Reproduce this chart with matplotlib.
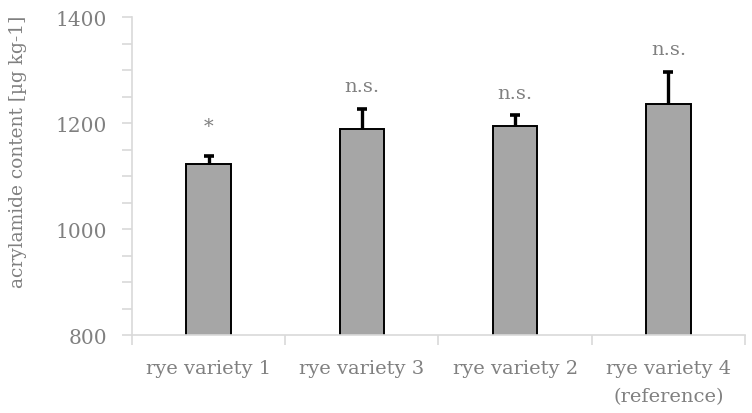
import matplotlib
matplotlib.use("Agg")
import matplotlib.pyplot as plt
from matplotlib.ticker import MultipleLocator, FixedLocator

categories = ["rye variety 1", "rye variety 3", "rye variety 2", "rye variety 4\n(reference)"]
values = [1122, 1189, 1194, 1236]
errors = [16, 38, 21, 61]
labels = ["*", "n.s.", "n.s.", "n.s."]

plt.rcParams['font.family'] = ['DejaVu Serif']
gray = "#808080"

fig = plt.figure(figsize=(7.52, 4.14), dpi=100)
ax = fig.add_axes([0.1755, 0.1884, 0.8152, 0.7681])

x = list(range(len(categories)))
tops = [v + e for v, e in zip(values, errors)]
ax.bar(x, values, width=0.29, color="#a6a6a6", edgecolor="black", linewidth=1.4, zorder=2)
ax.vlines(x, values, tops, color="black", linewidth=2.4, zorder=3)
ax.plot(x, tops, linestyle="none", marker="_", markersize=7, markeredgewidth=2.6,
        color="black", zorder=3)
for xi, t, lab in zip(x, tops, labels):
    off = 18 if lab == "*" else 12.5
    ax.annotate(lab, (xi, t), xytext=(0, off), textcoords="offset points",
                ha="center", va="baseline", color=gray, fontsize=14)

ax.set_xlim(-0.5, len(categories) - 0.5)
ax.set_ylim(800, 1400)
ax.yaxis.set_major_locator(MultipleLocator(200))
ax.yaxis.set_minor_locator(MultipleLocator(50))
ax.set_xticks(x)
ax.set_xticklabels(categories, linespacing=1.75)
ax.xaxis.set_minor_locator(FixedLocator([i + 0.5 for i in range(-1, len(categories))]))
ax.tick_params(axis="x", which="major", length=0, pad=17, labelsize=14, labelcolor=gray)
ax.tick_params(axis="x", which="minor", length=7, color="#d9d9d9", width=1.2, direction="out")
ax.tick_params(axis="y", which="major", length=7, color="#d9d9d9", width=1.2, labelsize=14.5,
               labelcolor=gray, pad=11)
ax.tick_params(axis="y", which="minor", length=7, color="#d9d9d9", width=1.2)
for s in ["top", "right"]:
    ax.spines[s].set_visible(False)
for s in ["left", "bottom"]:
    ax.spines[s].set_color("#d9d9d9")
    ax.spines[s].set_linewidth(1.2)
ax.set_ylabel("acrylamide content [µg kg-1]", color=gray, fontsize=13.4, va="center")
ax.yaxis.set_label_coords(-0.186, 0.58)

fig.savefig("out.png", dpi=100)
